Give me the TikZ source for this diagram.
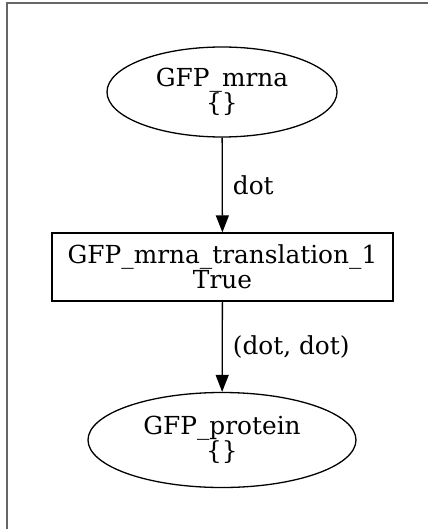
\documentclass[tikz,border=0pt]{standalone}
\usepackage{fontspec}
\setmainfont{DejaVu Serif}
\usetikzlibrary{arrows.meta,shapes.geometric}

\tikzset{
  place/.style={draw,ellipse,line width=1.3pt,inner sep=0pt,align=center},
  trans/.style={draw,rectangle,line width=1.3pt,inner sep=0pt,align=center},
  flow/.style={line width=1.3pt,-{Triangle[length=17pt,width=13pt]}},
  lbl/.style={right,inner sep=0pt}
}

\begin{document}
\begin{tikzpicture}[x=1pt,y=1pt,font=\fontsize{24.8}{25}\selectfont]
\useasboundingbox (0,0) rectangle (428,-529);
% cadre
\draw [gray!80!black,line width=1.2pt] (7,-529) -- (7,-3) -- (428,-3);
% noeuds
\node [place,minimum width=230pt,minimum height=90pt] (mrna) at (222,-92) {GFP\_mrna\\\{\}};
\node [trans,minimum width=341pt,minimum height=68pt] (transl) at (222.5,-267) {GFP\_mrna\_translation\_1\\True};
\node [place,minimum width=268pt,minimum height=95pt] (prot) at (222,-440) {GFP\_protein\\\{\}};
% fleches
\draw [flow] (mrna) -- (transl) node [lbl,pos=0.5,xshift=10pt] (l1) {dot};
\draw [flow] (transl) -- (prot) node [lbl,pos=0.5,xshift=10pt] (l2) {(dot, dot)};
\end{tikzpicture}
\end{document}
